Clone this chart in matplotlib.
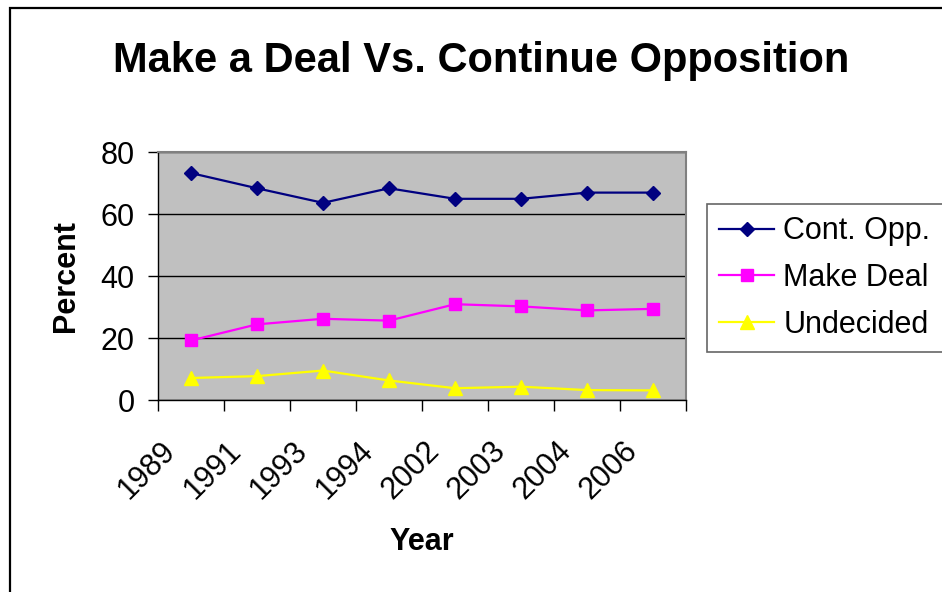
import matplotlib
matplotlib.use("Agg")
import matplotlib.pyplot as plt
from matplotlib.patches import Rectangle
from matplotlib.transforms import ScaledTranslation

plt.rcParams['font.family'] = ['Liberation Sans', 'DejaVu Sans']

years = ["1989", "1991", "1993", "1994", "2002", "2003", "2004", "2006"]
cont_opp = [73.2, 68.3, 63.6, 68.3, 64.9, 64.9, 66.9, 66.9]
make_deal = [19.2, 24.4, 26.2, 25.6, 30.9, 30.2, 28.9, 29.4]
undecided = [7.1, 7.7, 9.5, 6.3, 3.8, 4.3, 3.2, 3.1]
yticks = [0, 20, 40, 60, 80]

W, H = 942, 592
fig = plt.figure(figsize=(W / 100, H / 100), dpi=100)
fig.patch.set_facecolor("white")

# outer chart frame (clipped at right and bottom)
fig.add_artist(Rectangle((10 / W, -0.1), 1.2, 1 - 8 / H + 0.1, transform=fig.transFigure,
                         fill=False, edgecolor="black", linewidth=1.6))

ax = fig.add_axes([158 / W, 1 - 400 / H, 528 / W, 248 / H])
ax.set_facecolor("#C0C0C0")
x = list(range(len(years)))

l1, = ax.plot(x, cont_opp, color="#000080", marker="D", markersize=7.5, linewidth=1.6,
              label="Cont. Opp.")
l2, = ax.plot(x, make_deal, color="#FF00FF", marker="s", markersize=9, linewidth=1.6,
              label="Make Deal")
l3, = ax.plot(x, undecided, color="#FFFF00", marker="^", markersize=10, linewidth=1.6,
              label="Undecided")

ax.set_xlim(-0.5, len(years) - 0.5)
ax.set_ylim(0, 80)
ax.set_yticks(yticks)
ax.set_yticklabels([str(v) for v in yticks], fontsize=22)
ax.yaxis.grid(True, color="black", linewidth=1)
ax.set_axisbelow(True)

ax.set_xticks([i - 0.5 for i in range(len(years) + 1)])
ax.set_xticklabels([])
ax.set_xticks(x, minor=True)
ax.set_xticklabels(years, minor=True, fontsize=22, rotation=45, ha="right", va="top",
                   rotation_mode="anchor")
ax.tick_params(axis="x", which="major", length=8, width=1, direction="out")
ax.tick_params(axis="x", which="minor", length=0, pad=22)
ax.tick_params(axis="y", length=7, width=1, pad=10)
offset = ScaledTranslation(-31 / 100, -5 / 100, fig.dpi_scale_trans)
for lab in ax.get_xticklabels(minor=True):
    lab.set_transform(lab.get_transform() + offset)

for side in ["top", "right"]:
    ax.spines[side].set_color("#808080")
    ax.spines[side].set_linewidth(1.5)
for side in ["left", "bottom"]:
    ax.spines[side].set_color("black")
    ax.spines[side].set_linewidth(1)

ax.set_xlabel("Year", fontsize=22, fontweight="bold", labelpad=16)
ax.set_ylabel("Percent", fontsize=22, fontweight="bold", labelpad=14)

fig.text(481 / W, 1 - 61 / H, "Make a Deal Vs. Continue Opposition", fontsize=30,
         fontweight="bold", ha="center", va="center")

leg = fig.legend(handles=[l1, l2, l3], loc="upper left",
                 bbox_to_anchor=(707 / W, 1 - 204 / H), fontsize=22,
                 frameon=True, fancybox=False, borderaxespad=0, handlelength=1.8,
                 handletextpad=0.3, labelspacing=0.55, borderpad=0.4)
leg.get_frame().set_edgecolor("#404040")
leg.get_frame().set_linewidth(1.2)

fig.savefig("out.png", dpi=100)
